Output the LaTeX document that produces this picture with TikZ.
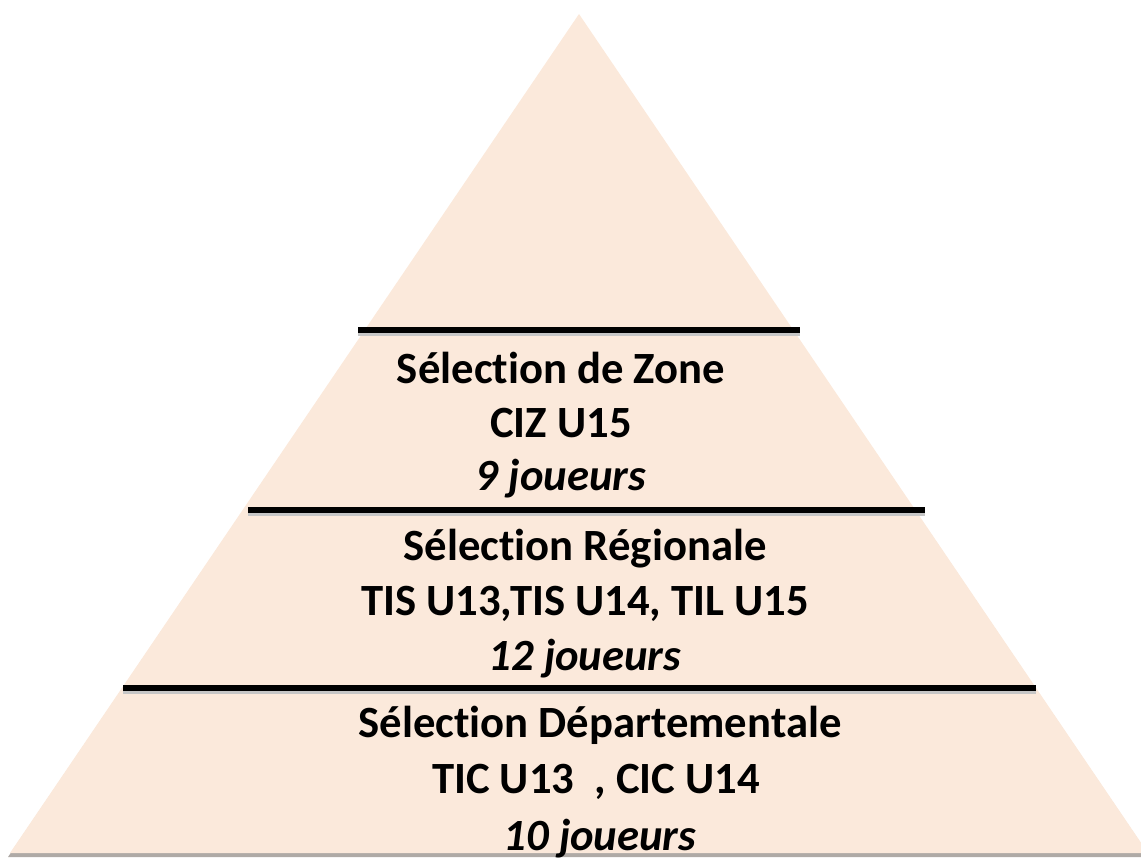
\documentclass[tikz,border=0pt]{standalone}
\usepackage{fontspec}
\setmainfont[Ligatures=NoCommon]{Carlito}
\definecolor{pyrfill}{RGB}{251,233,219}
\definecolor{pyrshadow}{RGB}{175,170,166}
\begin{document}
\begin{tikzpicture}[x=0.75pt,y=-0.75pt,
  lvl/.style={anchor=base,inner sep=0pt,font=\fontsize{33.5}{40}\selectfont\bfseries},
  lvlit/.style={anchor=base,inner sep=0pt,font=\fontsize{33.5}{40}\selectfont\bfseries\itshape},
  divider/.style={line width=3.9pt,black,line cap=butt}]
\useasboundingbox (0,0) rectangle (1141,857);
\begin{scope}
\clip (0,0) rectangle (1141,857);
\fill[pyrshadow] (579,16) -- (8,857) -- (1150,857) -- cycle;
\fill[pyrfill] (579,14) -- (10,853) -- (1148,853) -- cycle;
\end{scope}
% dividers
\coordinate (d1l) at (358,330); \coordinate (d1r) at (800,330);
\coordinate (d2l) at (248,510); \coordinate (d2r) at (925,510);
\coordinate (d3l) at (123,688); \coordinate (d3r) at (1036,688);
\draw[divider,gray!45,line width=5.5pt] ([yshift=-1.5pt]d1l) -- ([yshift=-1.5pt]d1r);
\draw[divider,gray!45,line width=5.5pt] ([yshift=-1.5pt]d2l) -- ([yshift=-1.5pt]d2r);
\draw[divider,gray!45,line width=5.5pt] ([yshift=-1.5pt]d3l) -- ([yshift=-1.5pt]d3r);
\draw[divider] (d1l) -- (d1r);
\draw[divider] (d2l) -- (d2r);
\draw[divider] (d3l) -- (d3r);
% level 1
\node[lvl]   (z1) at (561,383) {Sélection de Zone};
\node[lvl]   (z2) at (561,437) {CIZ U15};
\node[lvlit] (z3) at (561,490) {9 joueurs};
% level 2
\node[lvl]   (r1) at (585,560) {Sélection Régionale};
\node[lvl]   (r2) at (585,615) {TIS U13,TIS U14, TIL U15};
\node[lvlit] (r3) at (585,670) {12 joueurs};
% level 3
\node[lvl]   (p1) at (600,737) {Sélection Départementale};
\node[lvl]   (p2) at (596,793) {TIC U13\ \ , CIC U14};
\node[lvlit] (p3) at (600,850) {10 joueurs};
\end{tikzpicture}
\end{document}
